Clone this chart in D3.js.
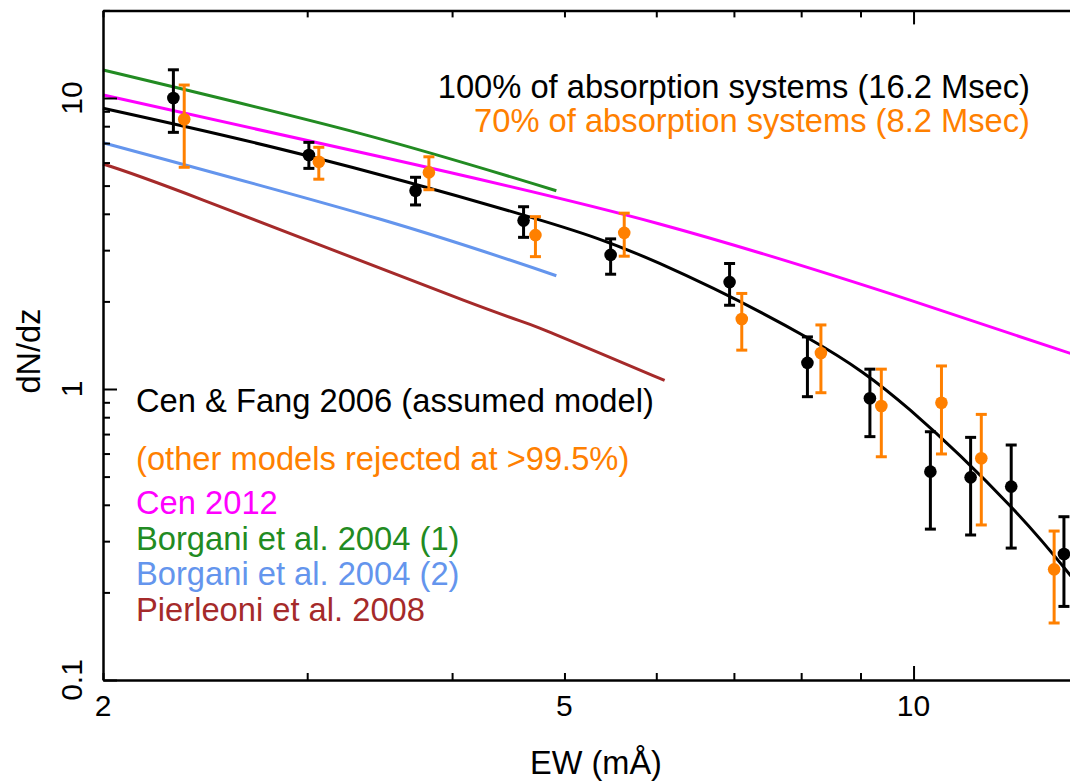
<!DOCTYPE html>
<html lang="en">
<head>
    <meta charset="utf-8"/>
    <title>dN/dz vs EW</title>
    <script src="https://d3js.org/d3.v7.min.js"></script>
    <style>
        body { margin: 0; background: #fff; }
        svg { font-family: "Liberation Sans", Arial, Helvetica, sans-serif; }
    </style>
</head>
<body>
<svg width="1070" height="782"></svg>

<script type="text/javascript">

    // colores
    const black = "#000000", orange = "#ff8000", magenta = "#ff00ff",
        green = "#228b22", blue = "#6495ed", brown = "#a52a2a";

    // ticks
    const xTicks = [2, 3, 4, 5, 6, 7, 8, 9, 10];
    const xMajor = [10];
    const xLabels = [2, 5, 10];
    const yTicks = [0.1, 0.2, 0.3, 0.4, 0.5, 0.6, 0.7, 0.8, 0.9, 1, 2, 3, 4, 5, 6, 7, 8, 9, 10, 20];
    const yMajor = [0.1, 1, 10];
    const yLabels = ["0.1", "1", "10"];

    // 100% of absorption systems
    const ew100 = [2.30, 3.01, 3.72, 4.61, 5.48, 6.94, 8.10, 9.17, 10.34, 11.20, 12.14, 13.48];
    const n100 = [10.0, 6.37, 4.80, 3.79, 2.89, 2.33, 1.23, 0.929, 0.520, 0.497, 0.462, 0.271];
    const hi100 = [12.5, 7.04, 5.34, 4.23, 3.28, 2.70, 1.51, 1.17, 0.713, 0.682, 0.642, 0.364];
    const lo100 = [7.62, 5.73, 4.29, 3.32, 2.48, 1.94, 0.941, 0.686, 0.330, 0.315, 0.284, 0.179];

    // 70% of absorption systems
    const ew70 = [2.35, 3.07, 3.82, 4.72, 5.63, 7.11, 8.32, 9.38, 10.57, 11.44, 13.22];
    const n70 = [8.45, 6.04, 5.55, 3.38, 3.44, 1.74, 1.33, 0.874, 0.897, 0.578, 0.240];
    const hi70 = [11.08, 6.77, 6.28, 3.91, 4.02, 2.13, 1.66, 1.17, 1.20, 0.818, 0.325];
    const lo70 = [5.78, 5.26, 4.84, 2.85, 2.86, 1.36, 0.971, 0.585, 0.598, 0.341, 0.157];

    // modelos
    const cenFangEW = [2.00, 2.96, 4.61, 6.04, 8.10, 9.93, 12.14, 13.7];
    const cenFangN = [9.22, 6.42, 3.96, 2.70, 1.50, 0.847, 0.393, 0.225];
    const cen2012EW = [2.00, 3.47, 6.04, 9.93, 13.7];
    const cen2012N = [10.24, 6.28, 3.69, 2.02, 1.32];
    const borgani1EW = [2.00, 3.33, 4.92];
    const borgani1N = [12.48, 7.56, 4.80];
    const borgani2EW = [2.00, 3.47, 4.92];
    const borgani2N = [7.02, 3.83, 2.45];
    const pierleoniEW = [2.00, 2.44, 4.09, 4.76, 6.10];
    const pierleoniN = [5.93, 4.46, 2.02, 1.62, 1.07];

    const models = [
        {name: "Cen 2012", ew: cen2012EW, n: cen2012N, color: magenta},
        {name: "Borgani et al. 2004 (1)", ew: borgani1EW, n: borgani1N, color: green},
        {name: "Borgani et al. 2004 (2)", ew: borgani2EW, n: borgani2N, color: blue},
        {name: "Pierleoni et al. 2008", ew: pierleoniEW, n: pierleoniN, color: brown},
        {name: "Cen & Fang 2006", ew: cenFangEW, n: cenFangN, color: black}
    ];

    const svg = d3.select("svg");

    // escalas log
    const x = d3.scaleLog().domain([2, 14]).range([103, 1083]);
    const y = d3.scaleLog().domain([0.1, 20]).range([680, 10.4]);

    // curvas
    const line = d3.line()
        .x(d => x(d[0]))
        .y(d => y(d[1]))
        .curve(d3.curveNatural);

    svg.append("g")
        .selectAll("path")
        .data(models).enter()
        .append("path")
        .attr("d", m => line(m.ew.map((e, i) => [e, m.n[i]])))
        .attr("fill", "none")
        .attr("stroke", m => m.color)
        .attr("stroke-width", 3);

    // puntos con barras de error
    function drawPoints(ew, n, lo, hi, color) {
        const pts = ew.map((e, i) => ({ew: e, n: n[i], lo: lo[i], hi: hi[i]}));
        const g = svg.append("g");
        g.selectAll("line.bar").data(pts).enter()
            .append("line")
            .attr("x1", d => x(d.ew)).attr("x2", d => x(d.ew))
            .attr("y1", d => y(d.lo)).attr("y2", d => y(d.hi))
            .attr("stroke", color).attr("stroke-width", 3);
        g.selectAll("line.top").data(pts).enter()
            .append("line")
            .attr("x1", d => x(d.ew) - 5.5).attr("x2", d => x(d.ew) + 5.5)
            .attr("y1", d => y(d.hi)).attr("y2", d => y(d.hi))
            .attr("stroke", color).attr("stroke-width", 3);
        g.selectAll("line.bot").data(pts).enter()
            .append("line")
            .attr("x1", d => x(d.ew) - 5.5).attr("x2", d => x(d.ew) + 5.5)
            .attr("y1", d => y(d.lo)).attr("y2", d => y(d.lo))
            .attr("stroke", color).attr("stroke-width", 3);
        g.selectAll("circle").data(pts).enter()
            .append("circle")
            .attr("cx", d => x(d.ew))
            .attr("cy", d => y(d.n))
            .attr("r", 6.3)
            .attr("fill", color);
    }

    drawPoints(ew100, n100, lo100, hi100, black);
    drawPoints(ew70, n70, lo70, hi70, orange);

    // ejes (ticks hacia adentro)
    function styleAxis(g, major, isMajor) {
        g.select(".domain").attr("stroke-width", 2.5);
        g.selectAll(".tick line").attr("stroke-width", 2);
        g.selectAll(".tick text").remove();
        g.selectAll(".tick")
            .filter(d => major.includes(d))
            .select("line")
            .attr(isMajor, function () {
                return +d3.select(this).attr(isMajor) * 2;
            });
    }

    svg.append("g")
        .attr("transform", "translate(0,680)")
        .call(d3.axisBottom(x).tickValues(xTicks).tickSize(-7).tickSizeOuter(0))
        .call(g => styleAxis(g, xMajor, "y2"));

    svg.append("g")
        .attr("transform", "translate(0,10.4)")
        .call(d3.axisTop(x).tickValues(xTicks).tickSize(-7).tickSizeOuter(0))
        .call(g => styleAxis(g, xMajor, "y2"));

    svg.append("g")
        .attr("transform", "translate(103,0)")
        .call(d3.axisLeft(y).tickValues(yTicks).tickSize(-7).tickSizeOuter(0))
        .call(g => styleAxis(g, yMajor, "x2"));

    // etiquetas de ticks
    svg.append("g")
        .selectAll("text")
        .data(xLabels).enter()
        .append("text")
        .attr("x", d => x(d))
        .attr("y", 716)
        .attr("text-anchor", "middle")
        .style("font-size", "30px")
        .text(d => d);

    svg.append("g")
        .selectAll("text")
        .data(yLabels).enter()
        .append("text")
        .attr("transform", d => "translate(82," + y(+d) + ") rotate(-90)")
        .attr("text-anchor", "middle")
        .style("font-size", "30px")
        .text(d => d);

    // titulos de ejes
    svg.append("text")
        .attr("x", 596).attr("y", 774)
        .attr("text-anchor", "middle")
        .style("font-size", "32.5px")
        .text("EW (mÅ)");

    svg.append("text")
        .attr("transform", "translate(40,351) rotate(-90)")
        .attr("text-anchor", "middle")
        .style("font-size", "32.5px")
        .text("dN/dz");

    // textos
    svg.append("text")
        .attr("x", 1030).attr("y", 98)
        .attr("text-anchor", "end")
        .style("font-size", "32.7px")
        .attr("fill", black)
        .text("100% of absorption systems (16.2 Msec)");

    svg.append("text")
        .attr("x", 1030).attr("y", 132)
        .attr("text-anchor", "end")
        .style("font-size", "32.7px")
        .attr("fill", orange)
        .text("70% of absorption systems (8.2 Msec)");

    const legendLines = [
        {text: "Cen & Fang 2006 (assumed model)", color: black, y: 412},
        {text: "(other models rejected at >99.5%)", color: orange, y: 470},
        {text: "Cen 2012", color: magenta, y: 514},
        {text: "Borgani et al. 2004 (1)", color: green, y: 550},
        {text: "Borgani et al. 2004 (2)", color: blue, y: 585},
        {text: "Pierleoni et al. 2008", color: brown, y: 621}
    ];

    svg.append("g")
        .selectAll("text")
        .data(legendLines).enter()
        .append("text")
        .attr("x", 136)
        .attr("y", d => d.y)
        .style("font-size", "32.7px")
        .attr("fill", d => d.color)
        .text(d => d.text);

</script>
</body>
</html>
